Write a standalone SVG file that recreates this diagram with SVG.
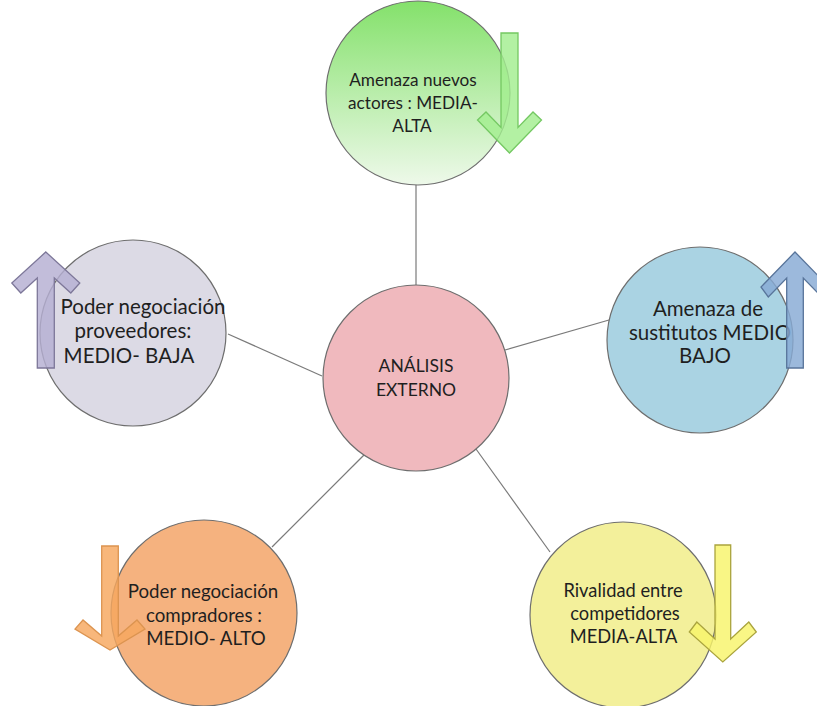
<svg xmlns="http://www.w3.org/2000/svg" width="817" height="706" viewBox="0 0 817 706">
<defs>
<linearGradient id="gGreen" x1="0" y1="0" x2="0" y2="1">
<stop offset="0" stop-color="#84e16b"/>
<stop offset="1" stop-color="#eef9ea"/>
</linearGradient>
</defs>
<style>
.conn{stroke:#7a7a7a;stroke-width:1.2;fill:none}
.circ{stroke:#6e6e6e;stroke-width:1.2}
.arrow{stroke-width:1.3;stroke-linejoin:miter;fill-opacity:0.82}
.lbl{font-family:Lato,"Open Sans",sans-serif;fill:#1f1f1f;text-anchor:middle}
</style>
<rect width="817" height="706" fill="#ffffff"/>
<g id="connectors">
<line class="conn" x1="416" y1="185" x2="416" y2="285"/>
<line class="conn" x1="228" y1="334" x2="322" y2="376"/>
<line class="conn" x1="505" y1="350" x2="609" y2="320"/>
<line class="conn" x1="272" y1="547" x2="364" y2="455"/>
<line class="conn" x1="476" y1="449" x2="550" y2="552"/>
</g>
<g id="center">
<circle class="circ" cx="416" cy="378" r="93" fill="#f0b9be"/>
<text class="lbl" font-size="17.5" x="416" y="372">ANÁLISIS</text>
<text class="lbl" font-size="17.5" x="416" y="396">EXTERNO</text>
</g>
<g id="nuevos">
<circle class="circ" cx="418" cy="93" r="92" fill="url(#gGreen)"/>
<text class="lbl" font-size="17.2" x="413" y="86">Amenaza nuevos</text>
<text class="lbl" font-size="17.2" x="413" y="109">actores : MEDIA-</text>
<text class="lbl" font-size="17.2" x="412" y="132">ALTA</text>
<polygon class="arrow" fill="#a2ee8f" stroke="#74c862" points="501,33 518,33 518,127.5 533,112 541.5,120 509.5,153 477.5,120 486,112 501,127.5"/>
</g>
<g id="proveedores">
<circle class="circ" cx="133" cy="333" r="93" fill="#dcdae5"/>
<text class="lbl" font-size="20.5" x="143" y="314">Poder negociación</text>
<text class="lbl" font-size="20.5" x="133" y="338">proveedores:</text>
<text class="lbl" font-size="20.5" x="129" y="363">MEDIO- BAJA</text>
<polygon class="arrow" fill="#b4aed2" stroke="#7d7799" points="45.8,252 79.8,283 70.8,293 54.3,278 54.3,368 37.3,368 37.3,278 20.8,293 11.8,283"/>
</g>
<g id="sustitutos">
<circle class="circ" cx="700" cy="340" r="93" fill="#aad3e3"/>
<text class="lbl" font-size="20.5" x="708" y="316">Amenaza de</text>
<text class="lbl" font-size="20.5" x="710" y="340">sustitutos MEDIO</text>
<text class="lbl" font-size="20.5" x="705" y="363">BAJO</text>
<polygon class="arrow" fill="#86aad4" stroke="#58749a" points="795,252 829,287 821.7,297 803.3,278 803.3,368 786.7,368 786.7,278 768.3,297 761,287"/>
</g>
<g id="compradores">
<circle class="circ" cx="204" cy="613" r="93" fill="#f5b27f"/>
<text class="lbl" font-size="18.7" x="203" y="598">Poder negociación</text>
<text class="lbl" font-size="18.7" x="204" y="622">compradores :</text>
<text class="lbl" font-size="18.7" x="206" y="645">MEDIO- ALTO</text>
<polygon class="arrow" fill="#f7a75e" stroke="#dc9450" points="101.7,546 118.3,546 118.3,636 137,620 145,629 110,650 75,629 83,620 101.7,636"/>
</g>
<g id="rivalidad">
<circle class="circ" cx="623" cy="615" r="93" fill="#f3f09b"/>
<text class="lbl" font-size="18.3" x="623" y="597">Rivalidad entre</text>
<text class="lbl" font-size="18.3" x="625" y="620">competidores</text>
<text class="lbl" font-size="18.3" x="623.5" y="643">MEDIA-ALTA</text>
<polygon class="arrow" fill="#f8f46a" stroke="#aaa43e" points="715,545 730.7,545 730.7,639 748.8,622 756.3,632 722.8,662 689.3,632 696.8,622 715,639"/>
</g>
</svg>
